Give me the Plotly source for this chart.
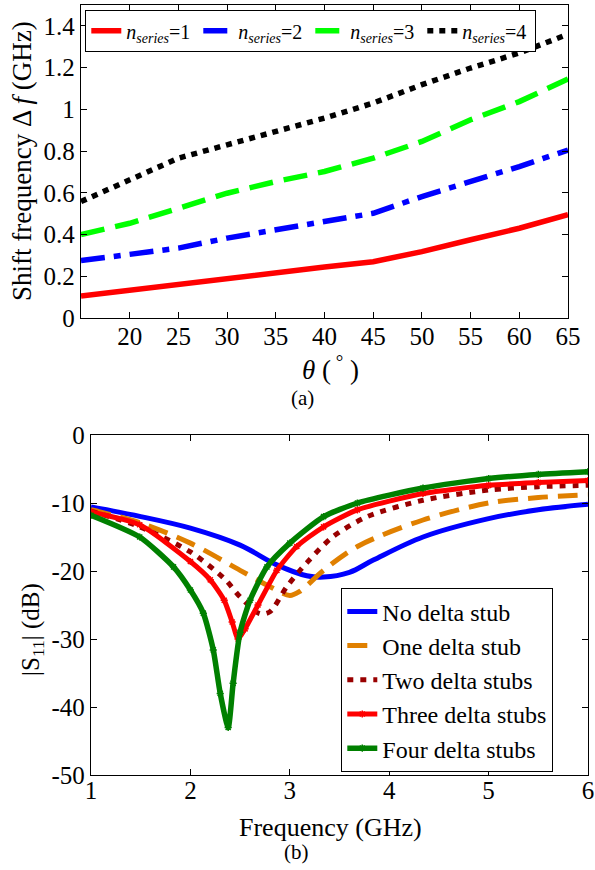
import plotly.graph_objects as go

# ---------- (a) data ----------
theta = [15, 20, 25, 30, 35, 40, 45, 50, 55, 60, 65]
shift_n1 = [0.105, 0.134, 0.158, 0.187, 0.215, 0.244, 0.270, 0.318, 0.375, 0.430, 0.495]
shift_n2 = [0.275, 0.302, 0.335, 0.383, 0.422, 0.462, 0.502, 0.582, 0.654, 0.726, 0.805]
shift_n3 = [0.400, 0.454, 0.526, 0.598, 0.654, 0.702, 0.766, 0.846, 0.950, 1.037, 1.145]
shift_n4 = [0.558, 0.662, 0.766, 0.830, 0.894, 0.958, 1.030, 1.118, 1.198, 1.270, 1.360]
labels_a = ["<i>n</i><sub><i>series</i></sub>=1", "<i>n</i><sub><i>series</i></sub>=2",
            "<i>n</i><sub><i>series</i></sub>=3", "<i>n</i><sub><i>series</i></sub>=4"]
ticks_a_x = [20, 25, 30, 35, 40, 45, 50, 55, 60, 65]
ticks_a_y = [0, 0.2, 0.4, 0.6, 0.8, 1.0, 1.2, 1.4]
ticktext_a_y = ["0", "0.2", "0.4", "0.6", "0.8", "1", "1.2", "1.4"]

# ---------- (b) data ----------
f_no = [1.0, 1.5, 2.0, 2.5, 2.87, 3.17, 3.34, 3.6, 3.84, 4.34, 5.0, 5.5, 6.0]
s_no = [-10.6, -12.0, -13.7, -16.2, -19.1, -20.7, -20.9, -20.2, -18.4, -15.0, -12.3, -11.0, -10.2]
f_one = [1.0, 1.49, 2.0, 2.5, 2.8, 3.0, 3.1, 3.34, 3.68, 4.34, 5.0, 5.5, 6.0]
s_one = [-11.0, -12.9, -15.9, -19.9, -22.3, -23.6, -23.0, -19.9, -16.4, -12.5, -10.0, -9.2, -8.8]
f_two = [1.0, 1.49, 2.0, 2.34, 2.5, 2.7, 2.8, 2.97, 3.17, 3.43, 3.78, 4.34, 5.0, 5.5, 6.0]
s_two = [-11.2, -13.5, -17.2, -21.1, -23.8, -26.3, -26.0, -22.3, -18.8, -15.0, -12.0, -9.6, -8.1, -7.6, -7.4]
f_three = [1.0, 1.49, 2.0, 2.2, 2.34, 2.42, 2.48, 2.55, 2.68, 2.87, 3.07, 3.34, 3.68, 4.34, 5.0, 5.5, 6.0]
s_three = [-11.3, -13.2, -18.6, -21.3, -24.3, -27.5, -30.0, -28.5, -25.0, -19.9, -16.4, -13.5, -11.0, -8.6, -7.4, -7.0, -6.7]
f_four = [1.0, 1.49, 1.83, 2.0, 2.13, 2.23, 2.3, 2.38, 2.43, 2.5, 2.6, 2.77, 3.0, 3.34, 3.68, 4.34, 5.0, 5.5, 6.0]
s_four = [-11.8, -15.0, -19.4, -22.8, -26.2, -31.6, -38.0, -43.0, -36.5, -29.0, -24.3, -19.4, -15.9, -12.0, -10.0, -7.8, -6.4, -5.8, -5.4]
labels_b = ["No delta stub", "One delta stub", "Two delta stubs", "Three delta stubs", "Four delta stubs"]
ticks_b_x = [1, 2, 3, 4, 5, 6]
ticks_b_y = [0, -10, -20, -30, -40, -50]
ticktext_b_y = ["0", "-10", "-20", "-30", "-40", "-50"]

FONT = "Times New Roman, Liberation Serif, serif"
W, H = 595, 870

fig = go.Figure()

# (a) traces
styles_a = [("#FF0000", "solid"), ("#0000FF", "24px,9px,7px,9px"),
            ("#00FF00", "24px,11px"), ("#000000", "6px,6px")]
for ys, lab, (col, dash) in zip([shift_n1, shift_n2, shift_n3, shift_n4], labels_a, styles_a):
    fig.add_trace(go.Scatter(x=theta, y=ys, mode="lines", name=lab,
                             line=dict(color=col, width=5.5, dash=dash),
                             xaxis="x", yaxis="y", legend="legend"))

# (b) traces
styles_b = [("#0000FF", "solid", None, 5, 1.0), ("#E08000", "20px,10px", None, 5, 0.9),
            ("#990000", "6px,7px", None, 5, 0.8), ("#FF0000", "solid", "asterisk-open", 5, 0.6),
            ("#008000", "solid", "asterisk-open", 5.5, 0.6)]
for fx, sy, lab, (col, dash, sym, lw, sm) in zip([f_no, f_one, f_two, f_three, f_four],
                                                 [s_no, s_one, s_two, s_three, s_four], labels_b, styles_b):
    if sym:
        kw = dict(mode="lines+markers", marker=dict(symbol=sym, size=6, color=col, line=dict(color=col, width=1.5)))
    else:
        kw = dict(mode="lines")
    fig.add_trace(go.Scatter(x=fx, y=sy, name=lab,
                             line=dict(color=col, width=lw, dash=dash, shape="spline", smoothing=sm),
                             xaxis="x2", yaxis="y2", legend="legend2", **kw))

ax_common = dict(showline=True, mirror="ticks", linecolor="black", linewidth=1.3,
                 ticks="inside", ticklen=6, tickcolor="black", showgrid=False, zeroline=False,
                 tickfont=dict(family=FONT, size=25, color="black"))

def px_x(v):
    return v / W

def px_y(v):
    return 1 - v / H

fig.update_layout(
    width=W, height=H, margin=dict(l=0, r=0, t=0, b=0, autoexpand=False),
    paper_bgcolor="white", plot_bgcolor="white",
    font=dict(family=FONT, color="black"),
    xaxis=dict(domain=[px_x(81), px_x(568)], range=[15, 65], tickvals=ticks_a_x,
               anchor="y", ticklabelstandoff=-4, **ax_common),
    yaxis=dict(domain=[px_y(318), px_y(5)], range=[0, 1.5],
               tickvals=ticks_a_y, ticktext=ticktext_a_y, anchor="x", **ax_common),
    xaxis2=dict(domain=[px_x(91), px_x(588)], range=[1, 6], tickvals=ticks_b_x,
                anchor="y2", ticklabelstandoff=-7, **ax_common),
    yaxis2=dict(domain=[px_y(775), px_y(435)], range=[-50, 0], tickvals=ticks_b_y,
                ticktext=ticktext_b_y, anchor="x2", **ax_common),
    legend=dict(orientation="h", x=px_x(85), y=px_y(10), xanchor="left", yanchor="top",
                bordercolor="black", borderwidth=1.3, bgcolor="white",
                entrywidth=67, entrywidthmode="pixels",
                font=dict(family=FONT, size=20, color="black")),
    legend2=dict(x=px_x(341), y=px_y(588), xanchor="left", yanchor="top",
                 bordercolor="black", borderwidth=1.3, bgcolor="white",
                 font=dict(family=FONT, size=24, color="black"), tracegroupgap=0),
    showlegend=True,
)

ann = [
    dict(text="Shift frequency Δ <i>f</i> (GHz)", x=22, y=161, textangle=-90, size=27),
    dict(text="<i>θ</i> (<sup> °</sup> )", x=330, y=368, textangle=0, size=27),
    dict(text="(a)", x=302, y=398, textangle=0, size=21),
    dict(text="|S<sub>11</sub>| (dB)", x=32, y=630, textangle=-90, size=25),
    dict(text="Frequency (GHz)", x=330, y=827, textangle=0, size=26),
    dict(text="(b)", x=296, y=852, textangle=0, size=21),
]
for a in ann:
    fig.add_annotation(text=a["text"], x=px_x(a["x"]), y=px_y(a["y"]), xref="paper", yref="paper",
                       xanchor="center", yanchor="middle", showarrow=False, textangle=a["textangle"],
                       font=dict(family=FONT, size=a["size"], color="black"))

fig.write_html("out.html", config={"displayModeBar": False},
               post_script="document.body.style.margin='0';document.body.style.padding='0';"
                           "document.documentElement.style.overflow='hidden';")
